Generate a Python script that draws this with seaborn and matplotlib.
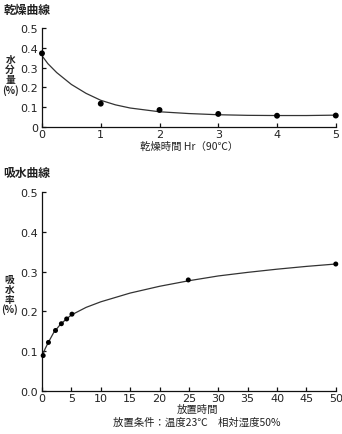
import matplotlib
matplotlib.use("Agg")
import matplotlib.pyplot as plt
import seaborn as sns

# ---- data ----
dry_hours = [0, 1, 2, 3, 4, 5]
dry_moisture = [0.372, 0.118, 0.086, 0.066, 0.057, 0.058]
dry_curve_x = [0, 0.1, 0.25, 0.5, 0.75, 1, 1.25, 1.5, 2, 2.5, 3, 3.5, 4, 4.5, 5]
dry_curve_y = [0.36, 0.32, 0.275, 0.215, 0.17, 0.135, 0.112, 0.096, 0.077, 0.068, 0.062, 0.059, 0.058, 0.058, 0.060]

abs_hours = [0.2, 1.1, 2.3, 3.3, 4.2, 5.1, 24.9, 50]
abs_rate = [0.089, 0.122, 0.152, 0.169, 0.181, 0.193, 0.279, 0.319]
abs_curve_x = [0, 0.5, 1, 2, 3, 4, 5, 7.5, 10, 15, 20, 25, 30, 35, 40, 45, 50]
abs_curve_y = [0.085, 0.105, 0.12, 0.147, 0.165, 0.179, 0.191, 0.21, 0.224, 0.246, 0.263, 0.277, 0.289, 0.298, 0.306, 0.313, 0.319]

dry_yticks = [0, 0.1, 0.2, 0.3, 0.4, 0.5]
dry_yticklabels = ["0", "0.1", "0.2", "0.3", "0.4", "0.5"]
abs_xticks = [0, 5, 10, 15, 20, 25, 30, 35, 40, 45, 50]
abs_yticks = [0, 0.1, 0.2, 0.3, 0.4, 0.5]
abs_yticklabels = ["0.0", "0.1", "0.2", "0.3", "0.4", "0.5"]

sns.set_style("ticks")
plt.rcParams['font.family'] = ['Noto Sans CJK JP', 'DejaVu Sans']
plt.rcParams['axes.unicode_minus'] = False

TXT = "#222222"
fig = plt.figure(figsize=(3.42, 4.35), dpi=100)

def style(ax):
    sns.despine(ax=ax)
    for s in ["left", "bottom"]:
        ax.spines[s].set_linewidth(0.9)
        ax.spines[s].set_color("#111111")
    ax.tick_params(direction="in", length=3, width=0.9, colors="#111111",
                   labelsize=8, labelcolor=TXT)
    ax.tick_params(axis="x", pad=1.5)
    ax.tick_params(axis="y", pad=3)
    for lab in ax.get_xticklabels() + ax.get_yticklabels():
        lab.set_fontfamily("DejaVu Sans")

# ---- top: drying curve ----
ax1 = fig.add_axes([0.1228, 0.7057, 0.859, 0.2276])
sns.lineplot(x=dry_curve_x, y=dry_curve_y, ax=ax1, color="#333333", linewidth=0.9)
sns.scatterplot(x=dry_hours, y=dry_moisture, ax=ax1, color="black", s=18,
                edgecolor="none", clip_on=False, zorder=5)
ax1.set_xlim(0, 5)
ax1.set_ylim(0, 0.5)
ax1.set_xticks(dry_hours)
ax1.set_yticks(dry_yticks)
ax1.set_yticklabels(dry_yticklabels)
style(ax1)
ax1.set_xlabel("乾燥時間 Hr（90℃）", fontsize=7.5, color=TXT)
ax1.xaxis.label.set_va("center")
ax1.xaxis.set_label_coords(0.5, -0.19)
fig.text(0.01, 0.977, "乾燥曲線", fontsize=8.5, fontweight="bold", color=TXT, va="center", ha="left")
fig.text(0.03, 0.826, "水\n分\n量\n(%)", fontsize=7, color=TXT, va="center", ha="center",
         linespacing=1.0, fontweight="bold")

# ---- bottom: absorption curve ----
ax2 = fig.add_axes([0.1228, 0.0989, 0.859, 0.4575])
sns.lineplot(x=abs_curve_x, y=abs_curve_y, ax=ax2, color="#333333", linewidth=0.9)
sns.scatterplot(x=abs_hours, y=abs_rate, ax=ax2, color="black", s=13,
                edgecolor="none", clip_on=False, zorder=5)
ax2.set_xlim(0, 50)
ax2.set_ylim(0, 0.5)
ax2.set_xticks(abs_xticks)
ax2.set_yticks(abs_yticks)
ax2.set_yticklabels(abs_yticklabels)
style(ax2)
ax2.set_xlabel("放置時間", fontsize=7.5, color=TXT)
ax2.xaxis.label.set_va("center")
ax2.xaxis.set_label_coords(0.53, -0.088)
fig.text(0.575, 0.029, "放置条件：温度23℃　相対湿度50%", fontsize=7.5, color=TXT,
         va="center", ha="center")
fig.text(0.01, 0.601, "吸水曲線", fontsize=8.5, fontweight="bold", color=TXT, va="center", ha="left")
fig.text(0.027, 0.322, "吸\n水\n率\n(%)", fontsize=7, color=TXT, va="center", ha="center",
         linespacing=1.0, fontweight="bold")

fig.savefig("out.png", dpi=100)
